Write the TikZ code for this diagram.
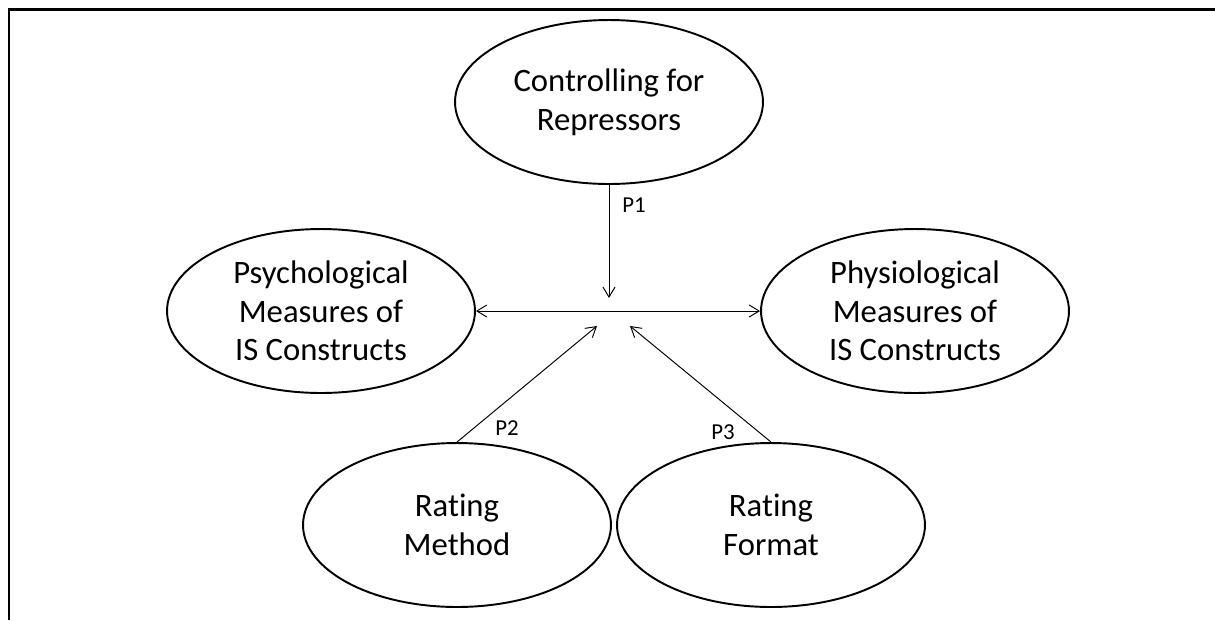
\documentclass[tikz,border=0pt]{standalone}
\usepackage{fontspec}
\setmainfont{Carlito}[Ligatures=NoCommon]
\usetikzlibrary{shapes.geometric,arrows.meta}

\tikzset{
  construct/.style={ellipse,draw,line width=1.1pt,minimum width=6.16cm,minimum height=3.28cm,
    inner sep=0pt,align=center,font=\fontsize{18.6}{22}\selectfont},
  plabel/.style={inner sep=0pt,font=\fontsize{13}{15}\selectfont},
  barb/.tip={Straight Barb[length=2mm,width=2.4mm]},
  link/.style={line width=0.55pt,-barb},
}

\begin{document}
\begin{tikzpicture}[x=0.02cm,y=-0.02cm]
\useasboundingbox (0,0) rectangle (1215,620);
% frame, open at right and bottom
\draw[line width=1.7pt] (9,620) -- (9,9) -- (1215,9);

%put the constructs
\node[construct] (rep) at (609,102) {Controlling for\\Repressors};
\node[construct] (psy) at (321,311) {Psychological\\Measures of\\IS Constructs};
\node[construct] (phy) at (915,311) {Physiological\\Measures of\\IS Constructs};
\node[construct] (meth) at (457,525) {Rating\\Method};
\node[construct] (form) at (771,525) {Rating\\Format};

%free ends of the moderating arrows
\coordinate (p1end) at (609,298);
\coordinate (p2end) at (597,326);
\coordinate (p3end) at (630,326);

\draw[link,barb-barb] (psy) -- (phy);
\draw[link] (rep) -- (p1end);
\draw[link] (meth.north) -- (p2end);
\draw[link] (form.north) -- (p3end);

\node[plabel] (p1) at (634,205) {P1};
\node[plabel] (p2) at (507,428) {P2};
\node[plabel] (p3) at (723,432) {P3};

\end{tikzpicture}
\end{document}
